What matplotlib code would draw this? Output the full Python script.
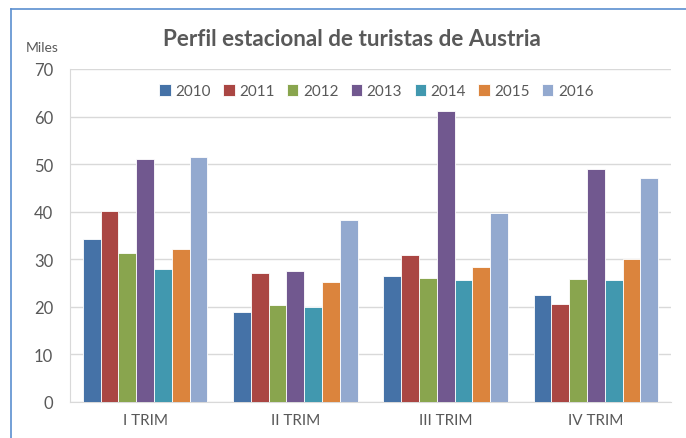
import numpy as np
import matplotlib.pyplot as plt
from matplotlib.lines import Line2D

plt.rcParams['font.family'] = ['Lato', 'DejaVu Sans']

trimestres = ['I TRIM', 'II TRIM', 'III TRIM', 'IV TRIM']
years = ['2010', '2011', '2012', '2013', '2014', '2015', '2016']
v2010 = [34.2, 18.9, 26.4, 22.5]
v2011 = [40.1, 27.2, 31.0, 20.5]
v2012 = [31.3, 20.4, 26.1, 25.8]
v2013 = [51.0, 27.6, 61.2, 48.9]
v2014 = [27.9, 20.0, 25.7, 25.6]
v2015 = [32.1, 25.3, 28.4, 30.0]
v2016 = [51.6, 38.2, 39.7, 47.1]
series = [v2010, v2011, v2012, v2013, v2014, v2015, v2016]
colors = ['#4572A7', '#AA4643', '#89A54E', '#71588F', '#4198AF', '#DB843D', '#93A9CF']

fig = plt.figure(figsize=(6.86, 4.39), dpi=100)
ax = fig.add_axes([70 / 686, (439 - 403) / 439, 601 / 686, 333 / 439])

x = np.arange(len(trimestres))
w = 0.83 / 7
for i, (vals, c) in enumerate(zip(series, colors)):
    ax.bar(x + (i - 3) * w, vals, w, color=c, edgecolor='white', linewidth=0.6,
           label=years[i], zorder=3)

ax.set_xlim(-0.5, 3.5)
ax.set_ylim(0, 70)
ax.set_yticks(range(0, 71, 10))
ax.set_xticks(x)
ax.set_xticklabels(trimestres)
ax.grid(axis='y', color='#D9D9D9', linewidth=1, zorder=0)
for s in ['top', 'right']:
    ax.spines[s].set_visible(False)
for s in ['left', 'bottom']:
    ax.spines[s].set_color('#D9D9D9')
ax.tick_params(length=0, colors='#595959', labelsize=11)
ax.tick_params(axis='y', pad=12)
ax.tick_params(axis='x', pad=8)
for t in ax.get_yticklabels():
    t.set_fontsize(12)

ax.legend(loc='upper center', bbox_to_anchor=(0.51, 0.995), ncol=7, frameon=False,
          handlelength=0.75, handleheight=0.75, handletextpad=0.3, columnspacing=0.8,
          fontsize=11, labelcolor='#595959')

fig.text(352 / 686, 1 - 40 / 439, 'Perfil estacional de turistas de Austria',
         ha='center', va='center', fontsize=16.2, fontweight='bold', color='#595959')
fig.text(42 / 686, 1 - 48 / 439, 'Miles', ha='center', va='center',
         fontsize=10, color='#595959')

# chart frame (blue border at top and left)
fig.add_artist(Line2D([10.5 / 686, 10.5 / 686], [0, 1 - 10 / 439],
                      transform=fig.transFigure, color='#5B8FD0', linewidth=1.2))
fig.add_artist(Line2D([10.5 / 686, 1], [1 - 10 / 439, 1 - 10 / 439],
                      transform=fig.transFigure, color='#5B8FD0', linewidth=1.2))

fig.savefig('out.png', dpi=100)
